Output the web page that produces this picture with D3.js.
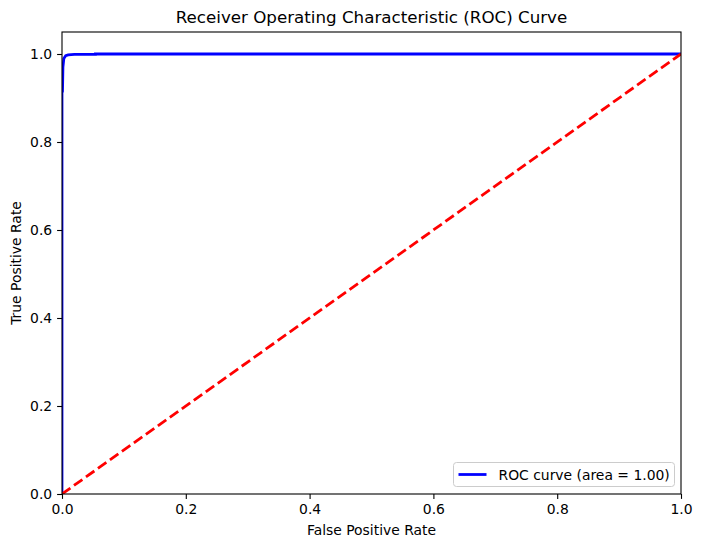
<!DOCTYPE html>
<html>
<head>
<meta charset="utf-8">
<script src="https://cdn.jsdelivr.net/npm/d3@7"></script>
<style>
  body { margin: 0; background: #fff; }
  text { font-family: "DejaVu Sans", sans-serif; fill: #000; }
</style>
</head>
<body>
<div id="chart"></div>
<script>
// ROC curve points
var fpr = [0, 0, 0.0008, 0.0015, 0.003, 0.006, 0.01, 0.02, 0.054, 0.054, 1.0];
var tpr = [0, 0.912, 0.915, 0.97, 0.99, 0.996, 0.998, 0.999, 0.999, 1.0, 1.0];
var chanceX = [0, 1];
var chanceY = [0, 1];
var tickValues = [0, 0.2, 0.4, 0.6, 0.8, 1.0];

var svgWidth = 702;
var svgHeight = 547;

var margin = { top: 32, right: 21, bottom: 53, left: 62 };
var chartWidth = svgWidth - margin.left - margin.right;
var chartHeight = svgHeight - margin.top - margin.bottom;

var svg = d3.select("#chart")
  .append("svg")
  .attr("width", svgWidth)
  .attr("height", svgHeight);

var chartGroup = svg.append("g")
  .attr("transform", `translate(${margin.left}, ${margin.top})`);

var x = d3.scaleLinear().domain([0, 1]).range([0, chartWidth]);
var y = d3.scaleLinear().domain([0, 1.05]).range([chartHeight, 0]);

// clip so the lines stay inside the axes
chartGroup.append("clipPath").attr("id", "clip")
  .append("rect")
  .attr("width", chartWidth)
  .attr("height", chartHeight);

var line = d3.line()
  .x(d => x(d[0]))
  .y(d => y(d[1]));

var roc = fpr.map((f, i) => [f, tpr[i]]);
var chance = chanceX.map((c, i) => [c, chanceY[i]]);

chartGroup.append("path")
  .datum(roc)
  .attr("clip-path", "url(#clip)")
  .attr("fill", "none")
  .attr("stroke", "blue")
  .attr("stroke-width", 2.78)
  .attr("d", line);

chartGroup.append("path")
  .datum(chance)
  .attr("clip-path", "url(#clip)")
  .attr("fill", "none")
  .attr("stroke", "red")
  .attr("stroke-width", 2.78)
  .attr("stroke-dasharray", "10.3,4.4")
  .attr("d", line);

// axes
var bottomAxis = d3.axisBottom(x)
  .tickValues(tickValues)
  .tickFormat(d3.format(".1f"))
  .tickSize(4.9)
  .tickPadding(4.9);

var leftAxis = d3.axisLeft(y)
  .tickValues(tickValues)
  .tickFormat(d3.format(".1f"))
  .tickSize(4.9)
  .tickPadding(4.9);

var xAxis = chartGroup.append("g")
  .attr("transform", `translate(0, ${chartHeight})`)
  .call(bottomAxis);

var yAxis = chartGroup.append("g")
  .call(leftAxis);

[xAxis, yAxis].forEach(function(ax) {
  ax.select(".domain").remove();
  ax.selectAll("line").attr("stroke", "#000").attr("stroke-width", 1.1);
  ax.selectAll("text")
    .style("font-family", "DejaVu Sans, sans-serif")
    .style("font-size", "13.9px")
    .attr("fill", "#000");
});

// frame
chartGroup.append("rect")
  .attr("width", chartWidth)
  .attr("height", chartHeight)
  .attr("fill", "none")
  .attr("stroke", "#000")
  .attr("stroke-width", 1.1);

// title and labels
svg.append("text")
  .attr("x", margin.left + chartWidth / 2)
  .attr("y", margin.top - 9)
  .attr("text-anchor", "middle")
  .style("font-size", "16.7px")
  .text("Receiver Operating Characteristic (ROC) Curve");

svg.append("text")
  .attr("x", margin.left + chartWidth / 2)
  .attr("y", 535)
  .attr("text-anchor", "middle")
  .style("font-size", "13.9px")
  .text("False Positive Rate");

svg.append("text")
  .attr("transform", `translate(21, ${margin.top + chartHeight / 2}) rotate(-90)`)
  .attr("text-anchor", "middle")
  .style("font-size", "13.9px")
  .text("True Positive Rate");

// legend
var legend = svg.append("g")
  .attr("transform", "translate(453.5, 462.5)");

legend.append("rect")
  .attr("width", 221)
  .attr("height", 24)
  .attr("rx", 3)
  .attr("fill", "#fff")
  .attr("fill-opacity", 0.8)
  .attr("stroke", "#ccc")
  .attr("stroke-width", 1);

legend.append("line")
  .attr("x1", 5)
  .attr("x2", 33)
  .attr("y1", 12)
  .attr("y2", 12)
  .attr("stroke", "blue")
  .attr("stroke-width", 2.78);

legend.append("text")
  .attr("x", 45)
  .attr("y", 17)
  .style("font-size", "13.9px")
  .text("ROC curve (area = 1.00)");
</script>
</body>
</html>
